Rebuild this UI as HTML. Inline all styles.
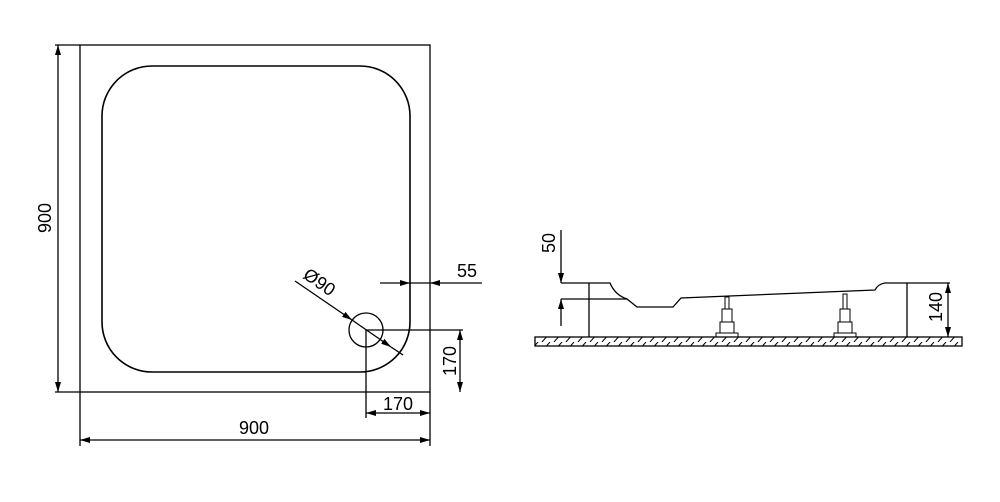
<!DOCTYPE html>
<html><head><style>html,body{margin:0;padding:0;background:#fff;}svg{display:block}</style></head>
<body>
<svg width="1000" height="502" viewBox="0 0 1000 502" xmlns="http://www.w3.org/2000/svg" font-family="Liberation Sans, sans-serif" font-size="18">
<defs>
<marker id="a" viewBox="0 0 10 6" refX="10" refY="3" markerWidth="10" markerHeight="6" orient="auto-start-reverse" markerUnits="userSpaceOnUse"><path d="M0,0L10,3L0,6z" fill="#000"/></marker>
<pattern id="h" width="12" height="9" patternUnits="userSpaceOnUse"><path d="M2,9L10,0" stroke="#000" stroke-width="1"/></pattern>
</defs>
<g stroke="#000" fill="none" stroke-width="1.3">
<rect x="80" y="45" width="350" height="347"/>
<rect x="102" y="66" width="308" height="306" rx="50" ry="50" stroke-width="1.6"/>
<line x1="55" y1="45" x2="80" y2="45"/>
<line x1="55" y1="392" x2="80" y2="392"/>
<line x1="58" y1="45" x2="58" y2="392" marker-start="url(#a)" marker-end="url(#a)"/>
<line x1="80" y1="392" x2="80" y2="446"/>
<line x1="430" y1="392" x2="430" y2="446"/>
<line x1="80" y1="440" x2="430" y2="440" marker-start="url(#a)" marker-end="url(#a)"/>
<circle cx="366" cy="330" r="17"/>
<line x1="366" y1="330" x2="463" y2="330"/>
<line x1="366" y1="330" x2="366" y2="418"/>
<line x1="460" y1="330" x2="460" y2="392" marker-start="url(#a)" marker-end="url(#a)"/>
<line x1="366" y1="413" x2="430" y2="413" marker-start="url(#a)" marker-end="url(#a)"/>
<line x1="380" y1="283" x2="410" y2="283" marker-end="url(#a)"/>
<line x1="482" y1="283" x2="430" y2="283" marker-end="url(#a)"/>
<line x1="410" y1="283" x2="430" y2="283"/>
<line x1="295" y1="281" x2="352" y2="320" marker-end="url(#a)"/>
<line x1="352" y1="320" x2="391" y2="347" marker-end="url(#a)"/>
<line x1="391" y1="347" x2="403" y2="355"/>
<rect x="535" y="337" width="427" height="9" fill="url(#h)"/>
<path d="M561,283 L610,283 Q615,295 627,299 L637,307 L673,307 L681,298 L875,290 Q878,284 885,283 L907,283 L907,337"/>
<line x1="589" y1="283" x2="589" y2="337"/>
<line x1="561" y1="299" x2="627" y2="299"/>
<line x1="907" y1="283" x2="950" y2="283"/>
<line x1="561" y1="230" x2="561" y2="283" marker-end="url(#a)"/>
<line x1="561" y1="326" x2="561" y2="299" marker-end="url(#a)"/>
<line x1="948" y1="283" x2="948" y2="337" marker-start="url(#a)" marker-end="url(#a)"/>
<g stroke-width="1">
<rect x="725" y="297" width="4" height="12"/><rect x="722" y="309" width="10" height="13"/><rect x="720" y="322" width="14" height="11"/><rect x="716" y="333" width="22" height="4"/>
<rect x="843" y="294" width="4" height="15"/><rect x="840" y="309" width="10" height="13"/><rect x="838" y="322" width="14" height="11"/><rect x="834" y="333" width="22" height="4"/>
</g>
</g>
<g fill="#000">
<text x="254" y="434" text-anchor="middle">900</text>
<text transform="translate(51,218) rotate(-90)" text-anchor="middle">900</text>
<text x="398" y="410" text-anchor="middle">170</text>
<text transform="translate(456,361) rotate(-90)" text-anchor="middle">170</text>
<text x="467" y="277" text-anchor="middle">55</text>
<text transform="translate(316,287) rotate(35)" text-anchor="middle">Ø90</text>
<text transform="translate(555,243) rotate(-90)" text-anchor="middle">50</text>
<text transform="translate(942,307) rotate(-90)" text-anchor="middle">140</text>
</g>
</svg>
</body></html>
